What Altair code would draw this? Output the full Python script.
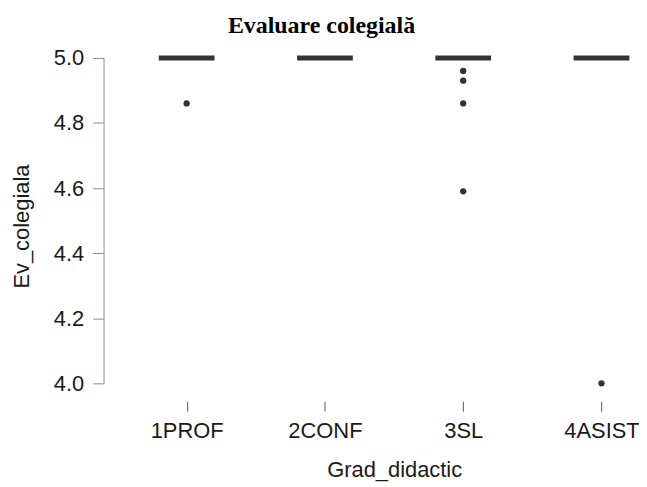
import altair as alt
import pandas as pd

categories = ["1PROF", "2CONF", "3SL", "4ASIST"]
medians = [5.0, 5.0, 5.0, 5.0]
outlier_groups = ["1PROF", "3SL", "3SL", "3SL", "3SL", "4ASIST"]
outlier_values = [4.86, 4.96, 4.93, 4.86, 4.59, 4.00]
y_ticks = [4.0, 4.2, 4.4, 4.6, 4.8, 5.0]

med_df = pd.DataFrame({"Grad_didactic": categories, "Ev_colegiala": medians})
out_df = pd.DataFrame({"Grad_didactic": outlier_groups, "Ev_colegiala": outlier_values})

FONT = "Liberation Sans"

xscale = alt.Scale(type="point", domain=categories, range=[83.5, 500.3], padding=0)
yscale = alt.Scale(domain=[4.0, 5.0], nice=False, zero=False)

xaxis = alt.Axis(
    title="Grad_didactic", domain=False, ticks=True, tickSize=10, tickColor="#555555",
    offset=18, labelFontSize=22, labelFont=FONT, labelColor="#1a1a1a", labelPadding=9,
    labelAngle=0, titleFontSize=22, titleFont=FONT, titleFontWeight="normal",
    titleColor="#1a1a1a", titleX=292, titleY=76, titleBaseline="alphabetic",
    titleAlign="center", grid=False,
)
yaxis = alt.Axis(
    title="Ev_colegiala", values=y_ticks, format=".1f", domainColor="#8c8c8c",
    tickColor="#8c8c8c", tickSize=11, labelPadding=9, labelFontSize=22, labelFont=FONT,
    labelColor="#1a1a1a", grid=False, titleFontSize=22, titleFont=FONT,
    titleFontWeight="normal", titleColor="#1a1a1a", titleAngle=-90, titleX=-82,
    titleY=169, titleBaseline="middle", titleAlign="center",
)

x = alt.X("Grad_didactic:N", scale=xscale, axis=xaxis)
y = alt.Y("Ev_colegiala:Q", scale=yscale, axis=yaxis)

ticks = alt.Chart(med_df).mark_tick(size=56, thickness=5, color="#333333", orient="horizontal", opacity=1).encode(x=x, y=y)
points = alt.Chart(out_df).mark_point(filled=True, size=40, color="#333333", opacity=1).encode(x=x, y=y)

chart = alt.layer(ticks, points).properties(
    width=530, height=327,
    title=alt.Title("Evaluare colegială", font="Liberation Serif", fontSize=24,
                    fontWeight="bold", color="black", anchor="middle", frame="group",
                    dx=-46, dy=14, offset=4, baseline="alphabetic"),
    autosize=alt.AutoSizeParams(type="none"),
    padding={"left": 96, "top": 49, "right": 8, "bottom": 100},
).configure(background="white").configure_view(stroke=None)

chart.save("out.html", embed_options={"renderer": "svg", "actions": False})
